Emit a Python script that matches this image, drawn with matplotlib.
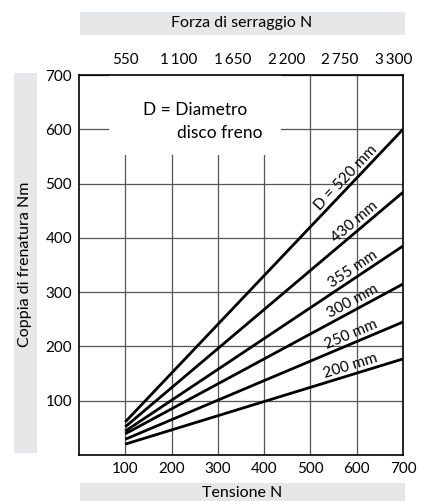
import numpy as np
import matplotlib.pyplot as plt
from matplotlib.patches import Rectangle

plt.rcParams['font.family'] = ['Lato', 'DejaVu Sans']

# tensione N -> coppia di frenatura Nm, one line per disc diameter
tensione = [100, 700]
diametri = ['D = 520 mm', '430 mm', '355 mm', '300 mm', '250 mm', '200 mm']
coppia = [[61, 600], [52, 484], [44, 385], [39, 315], [29, 245], [20, 177]]
label_x = [588, 606, 600, 598, 594, 590]

x_ticks = [100, 200, 300, 400, 500, 600, 700]
y_ticks = [100, 200, 300, 400, 500, 600, 700]
# forza di serraggio scale on top (550 sits at tensione 100, step of 550 every ~116 N)
forza_ticks = [550, 1100, 1650, 2200, 2750, 3300]
top_labels = ['550', '1\u2009100', '1\u2009650', '2\u2009200', '2\u2009750', '3\u2009300']
passo = 116.0

grey_band = '#e6e7e8'


def to_forza(x):
    return 550 + (np.asarray(x) - 100) * 550 / passo


def to_tensione(f):
    return 100 + (np.asarray(f) - 550) * passo / 550


fig = plt.figure(figsize=(4.24, 5.01), dpi=100)
ax = fig.add_axes([79/424, 1 - 455/501, 324/424, 380/501])

ax.set_xlim(0, 700)
ax.set_ylim(0, 700)
ax.set_xticks(x_ticks)
ax.set_yticks(y_ticks)
ax.tick_params(length=0, labelsize=11, pad=5)
ax.set_axisbelow(True)
ax.grid(True, color='#555555', lw=0.9)
for s in ax.spines.values():
    s.set_linewidth(1.2)
    s.set_color('black')

# white area behind the legend text
ax.add_patch(Rectangle((65, 553), 371, 147, facecolor='white', edgecolor='none', zorder=1))

for nome, yy, lx in zip(diametri, coppia, label_x):
    ax.plot(tensione, yy, color='black', lw=2, zorder=3, solid_capstyle='butt')
    slope = (yy[1] - yy[0]) / (tensione[1] - tensione[0])
    ly = yy[0] + slope * (lx - tensione[0])
    ang = np.degrees(np.arctan(slope))
    ax.text(lx, ly + 3, nome, rotation=ang, rotation_mode='anchor', transform_rotates_text=True,
            ha='center', va='bottom', fontsize=11, zorder=4)

ax.text(138, 635, 'D = Diametro', fontsize=12.5, ha='left', va='center', zorder=4)
ax.text(212, 593, 'disco freno', fontsize=12.5, ha='left', va='center', zorder=4)

sec = ax.secondary_xaxis('top', functions=(to_forza, to_tensione))
sec.set_xticks(forza_ticks)
sec.set_xticklabels(top_labels)
sec.tick_params(length=0, labelsize=11, pad=6)
sec.spines['top'].set_visible(False)

# grey title bands
fig.patches.append(Rectangle((80/424, 1 - 35/501), 325/424, 23/501, transform=fig.transFigure,
                             facecolor=grey_band, edgecolor='none'))
fig.text(242/424, 1 - 23.5/501, 'Forza di serraggio N', ha='center', va='center', fontsize=11.5)
fig.patches.append(Rectangle((80/424, 0), 325/424, 18/501, transform=fig.transFigure,
                             facecolor=grey_band, edgecolor='none'))
fig.text(242/424, 8/501, 'Tensione N', ha='center', va='center', fontsize=11.5)
fig.patches.append(Rectangle((14/424, 1 - 453/501), 23/424, 380/501, transform=fig.transFigure,
                             facecolor=grey_band, edgecolor='none'))
fig.text(25.5/424, 1 - 264/501, 'Coppia di frenatura Nm', ha='center', va='center',
         rotation=90, fontsize=11.5)

fig.savefig('out.png', dpi=100)
